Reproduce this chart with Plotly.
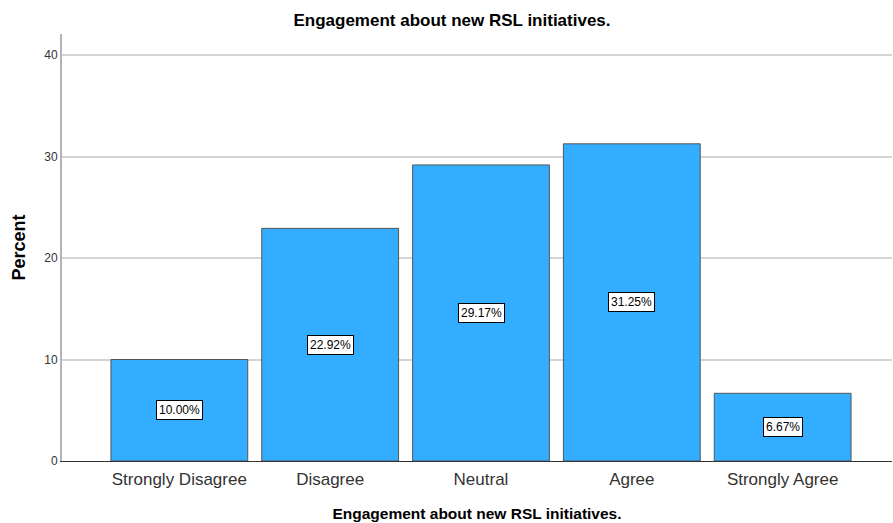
import plotly.graph_objects as go

categories = ["Strongly Disagree", "Disagree", "Neutral", "Agree", "Strongly Agree"]
percent = [10.00, 22.92, 29.17, 31.25, 6.67]
labels = ["10.00%", "22.92%", "29.17%", "31.25%", "6.67%"]
y_ticks = [0, 10, 20, 30, 40]

fig = go.Figure()
fig.add_trace(go.Bar(
    x=categories, y=percent,
    marker=dict(color="#33adff", line=dict(color="#555555", width=1)),
    hoverinfo="skip",
))

for c, v, t in zip(categories, percent, labels):
    fig.add_annotation(
        x=c, y=v / 2, text=t, showarrow=False,
        font=dict(family="Liberation Sans, Arial", size=12, color="#000000"),
        bgcolor="#ffffff", bordercolor="#000000", borderwidth=1, borderpad=2,
    )

fig.update_layout(
    width=893, height=523,
    margin=dict(l=62, r=1, t=34, b=62),
    paper_bgcolor="#ffffff", plot_bgcolor="#ffffff",
    bargap=0.093,
    showlegend=False,
    title=dict(
        text="<b>Engagement about new RSL initiatives.</b>",
        x=452 / 893, xanchor="center", y=1 - 20 / 523, yanchor="middle",
        font=dict(family="Liberation Sans, Arial", size=17, color="#000000"),
    ),
    xaxis=dict(
        range=[-0.778, 4.725],
        showline=True, linecolor="#333333", linewidth=1,
        showgrid=False, ticks="outside", ticklen=3, tickcolor="rgba(0,0,0,0)",
        tickfont=dict(family="Liberation Sans, Arial", size=17, color="#333333"),
        title=dict(text="<b>Engagement about new RSL initiatives.</b>", standoff=19,
                   font=dict(family="Liberation Sans, Arial", size=15.5, color="#000000")),
    ),
    yaxis=dict(
        range=[0, 42.07], tickvals=y_ticks,
        showline=True, linecolor="#b4b4b4", linewidth=2,
        showgrid=True, gridcolor="#d4d4d4", gridwidth=1.5,
        zeroline=False, ticks="",
        tickfont=dict(family="Liberation Sans, Arial", size=12, color="#333333"),
        title=dict(text="<b>Percent</b>", standoff=14,
                   font=dict(family="Liberation Sans, Arial", size=18, color="#000000")),
    ),
)

fig.write_html("out.html")
